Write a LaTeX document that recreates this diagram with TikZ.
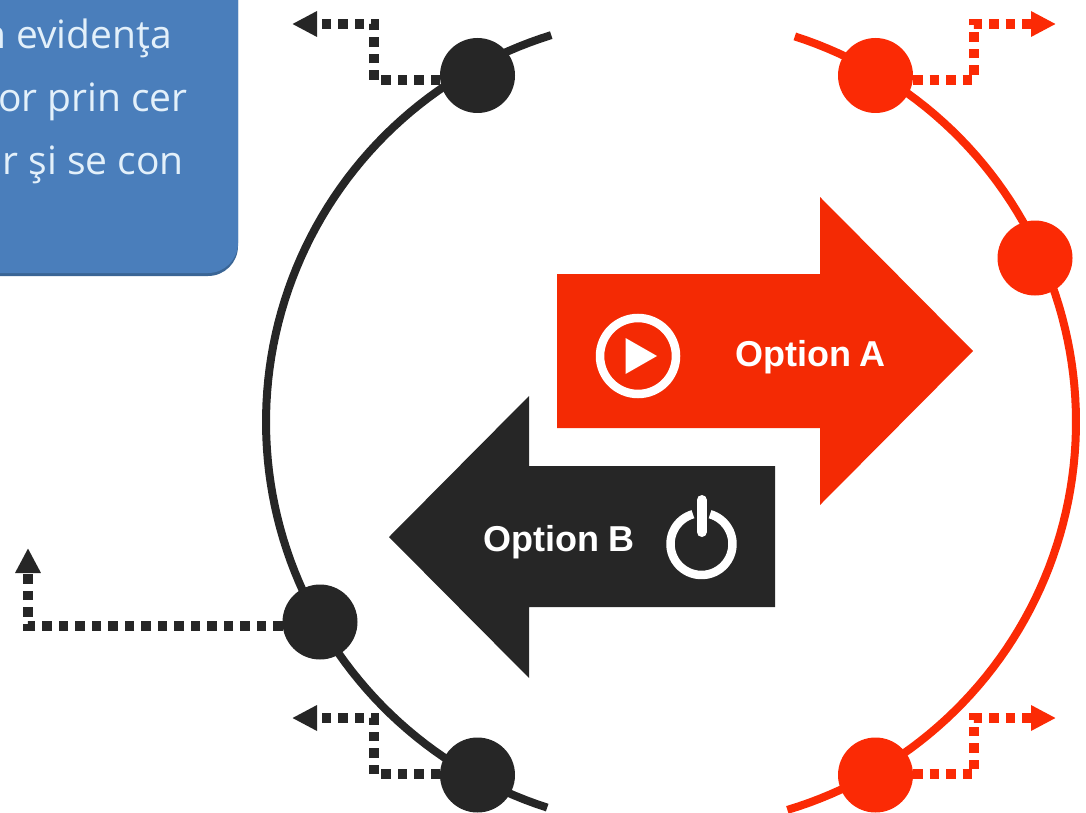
\documentclass[tikz,border=0pt]{standalone}
\usepackage{fontspec}
\setmainfont{Liberation Sans}
\newfontfamily\panelfont{Open Sans}
\usetikzlibrary{arrows.meta}
\definecolor{inkdark}{HTML}{262626}
\definecolor{inkred}{HTML}{FB2A05}
\definecolor{arrowred}{HTML}{F42A04}
\definecolor{panelblue}{HTML}{4A7EBB}
\definecolor{paneledge}{HTML}{3A6595}
\definecolor{paneltext}{HTML}{E3F0FA}
\tikzset{
  x=1pt,y=-1pt,
  ringline/.style={line width=8pt},
  dotmark/.style={circle,minimum size=75pt,inner sep=0pt,outer sep=0pt,fill=#1},
  dotted link/.style={draw=#1,line width=9.5pt,dash pattern=on 9.5pt off 7pt,
    -{Triangle[length=25pt,width=24pt,fill=#1,color=#1]}},
  arrowlabel/.style={text=white,font=\bfseries\fontsize{36}{36}\selectfont,anchor=base,inner sep=0pt},
  paneltxt/.style={text=paneltext,font=\panelfont\fontsize{39}{39}\selectfont,anchor=base east,inner sep=0pt},
}
\begin{document}
\begin{tikzpicture}
\useasboundingbox (0,0) rectangle (1086,813);
% blue panel
\begin{scope}
  \clip (0,0) rectangle (1086,813);
  \fill[paneledge,rounded corners=30pt] (-60,-60) rectangle (238,276);
  \fill[panelblue,rounded corners=30pt] (-60,-60) rectangle (238,273);
  \node[paneltxt] (t1) at (172,49) {n evidenţa};
  \node[paneltxt] (t2) at (188,111.5) {or prin cer};
  \node[paneltxt] (t3) at (184,175) {r şi se con};
\end{scope}
% big rings
\draw[ringline,inkdark] plot[domain=107.8:252.8,samples=90] ({671+405*cos(\x)},{422+405*sin(\x)});
\draw[ringline,inkred] plot[domain=-72.2:73.3,samples=90] ({671+405*cos(\x)},{422+405*sin(\x)});
% arrows
\fill[arrowred] (557,274) -- (820,274) -- (820,197) -- (973,351) -- (820,505) -- (820,428) -- (557,428) -- cycle;
\fill[inkdark] (775,466) -- (529,466) -- (529,396) -- (389,537) -- (529,678) -- (529,607) -- (775,607) -- cycle;
\node[arrowlabel] (la) at (810.5,366) {Option\kern-2pt\ A};
\node[arrowlabel] (lb) at (559,551) {Option B};
% play icon
\draw[white,line width=8.5pt] (638,356) circle[radius=38pt];
\fill[white] (625.5,338) -- (657,356) -- (625.5,374) -- cycle;
% power icon
\draw[white,line width=8.5pt] plot[domain=-74:254,samples=60] ({701.5+31*cos(\x)},{544+31*sin(\x)});
\draw[white,line width=10pt,line cap=round] (701.7,500) -- (701.7,532);
% free ends
\coordinate (k1) at (292,24);
\coordinate (k2) at (292,718);
\coordinate (k3) at (28,548);
\coordinate (r1) at (1056,24);
\coordinate (r2) at (1056,718);
% dots
\node[dotmark=inkdark] (d1) at (477.5,75.5) {};
\node[dotmark=inkdark] (d2) at (320,622) {};
\node[dotmark=inkdark] (d3) at (477.5,775) {};
\node[dotmark=inkred] (e1) at (875.5,75.5) {};
\node[dotmark=inkred] (e2) at (1035,258) {};
\node[dotmark=inkred] (e3) at (875.5,775) {};
% connectors
\path[dotted link=inkdark] (d1.west |- 0,80) -- (374,80) -- (374,24) -- (k1);
\path[dotted link=inkdark] (d3.west |- 0,774) -- (374,774) -- (374,718) -- (k2);
\path[dotted link=inkdark] (d2.west |- 0,626) -- (28,626) -- (k3);
\path[dotted link=inkred] (e1.east |- 0,80) -- (974,80) -- (974,24) -- (r1);
\path[dotted link=inkred] (e3.east |- 0,774) -- (974,774) -- (974,718) -- (r2);
\end{tikzpicture}
\end{document}
